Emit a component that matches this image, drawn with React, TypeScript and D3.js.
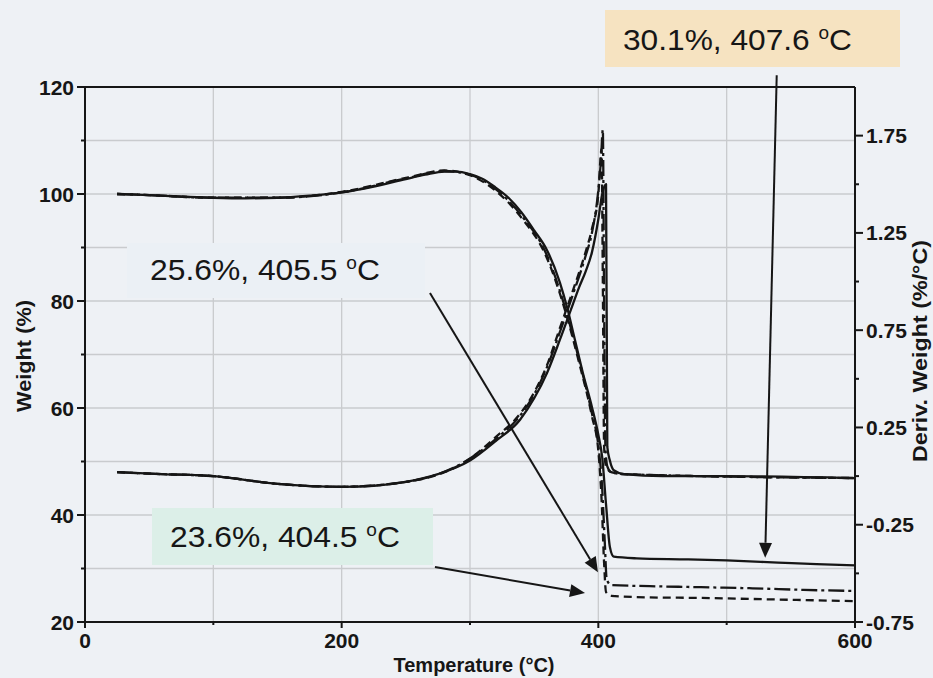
import React from "react";
import * as d3 from "d3";

// ---------- data ----------
const xTicks = [0, 200, 400, 600];
const xMinor = [100, 300, 500];
const yLeftTicks = [20, 40, 60, 80, 100, 120];
const yLeftMinor = [30, 50, 70, 90, 110];
const yRightTicks = [-0.75, -0.25, 0.25, 0.75, 1.25, 1.75];
const yRightMinor = [-0.5, 0, 0.5, 1.0, 1.5];
const gridY = [30, 40, 50, 60, 70, 80, 90, 100, 110];
const gridX = [100, 200, 300, 400, 500];

// weight (%) — solid sample
const wSolidT = [25, 50, 75, 100, 125, 150, 175, 200, 225, 250, 265, 280, 290, 300, 310, 320, 330, 340, 350, 360, 370, 376, 381, 388, 395, 400, 403, 406, 409, 412, 430, 470, 500, 540, 570, 600];
const wSolidV = [100.0, 99.8, 99.5, 99.3, 99.2, 99.3, 99.7, 100.3, 101.4, 102.8, 103.6, 104.2, 104.2, 103.7, 102.8, 101.2, 99.3, 96.6, 93.2, 89.5, 83.5, 78.5, 73.5, 66.5, 60.2, 55.0, 50.8, 42.0, 34.0, 32.2, 31.9, 31.7, 31.5, 31.1, 30.8, 30.6];
// weight — dash-dot sample
const wDashDotT = [25, 50, 100, 150, 200, 250, 280, 300, 320, 340, 360, 375, 385, 395, 400, 403, 405, 406.5, 410, 440, 480, 520, 560, 600];
const wDashDotV = [100.0, 99.8, 99.3, 99.3, 100.3, 102.9, 104.3, 103.6, 100.9, 96.0, 88.5, 78.0, 69.0, 59.0, 53.0, 45.0, 35.0, 28.0, 26.9, 26.7, 26.5, 26.3, 26.0, 25.8];
// weight — dashed sample
const wDashedT = [25, 50, 100, 150, 200, 250, 280, 300, 320, 340, 360, 375, 385, 395, 400, 402.5, 404.5, 406, 410, 440, 480, 520, 560, 600];
const wDashedV = [100.0, 99.8, 99.3, 99.3, 100.4, 103.0, 104.4, 103.5, 100.6, 95.6, 88.0, 77.5, 68.5, 58.5, 52.0, 43.0, 31.0, 25.6, 24.9, 24.6, 24.5, 24.3, 24.1, 23.9];

// derivative weight (%/°C) — solid
const dSolidT = [25, 60, 100, 150, 200, 225, 250, 275, 300, 320, 339, 350, 360, 370, 380, 385, 390, 395, 400, 403, 406, 407, 409, 412, 420, 450, 500, 600];
const dSolidV = [0.02, 0.01, 0.0, -0.04, -0.055, -0.05, -0.03, 0.01, 0.08, 0.18, 0.29, 0.4, 0.53, 0.7, 0.88, 0.97, 1.05, 1.15, 1.32, 1.45, 1.5, 0.15, 0.08, 0.03, 0.01, 0.0, 0.0, -0.01];
// derivative — dash-dot
const dDashDotT = [25, 60, 100, 150, 200, 250, 300, 320, 339, 350, 360, 370, 380, 390, 395, 400, 402, 403.5, 404.5, 405.5, 407, 410, 420, 600];
const dDashDotV = [0.02, 0.01, 0.0, -0.04, -0.055, -0.03, 0.09, 0.19, 0.31, 0.42, 0.56, 0.74, 0.93, 1.13, 1.25, 1.47, 1.62, 1.78, 0.9, 0.15, 0.05, 0.02, 0.01, -0.01];
// derivative — dashed
const dDashedT = [25, 60, 100, 150, 200, 250, 300, 320, 339, 350, 360, 370, 380, 390, 395, 400, 402.5, 403.5, 404.5, 406, 410, 420, 600];
const dDashedV = [0.02, 0.01, 0.0, -0.04, -0.055, -0.03, 0.09, 0.2, 0.32, 0.43, 0.57, 0.76, 0.95, 1.15, 1.27, 1.45, 1.68, 1.0, 0.15, 0.05, 0.02, 0.01, -0.01];

// annotations
const annoTexts = ["30.1%, 407.6 ", "25.6%, 405.5 ", "23.6%, 404.5 "];
// arrows: [startT, startW, tipT, tipW] in data units
const arrowSolid = [539, 122.2, 530, 32.0];
const arrowDashDot = [268.8, 81.5, 399.7, 29.3];
const arrowDashed = [272.7, 30.3, 389.6, 25.4];

// ---------- layout ----------
const W = 933;
const H = 678;
const x = d3.scaleLinear().domain([0, 600]).range([85, 855]);
const yL = d3.scaleLinear().domain([20, 120]).range([622, 87]);
const yR = d3.scaleLinear().domain([-0.75, 2.0]).range([622, 87]);

const lineL = (t: number[], v: number[]) =>
  d3.line<number>().x((_, i) => x(t[i])).y((d) => yL(d)).curve(d3.curveMonotoneX)(v) || "";
const lineR = (t: number[], v: number[]) =>
  d3.line<number>().x((_, i) => x(t[i])).y((d) => yR(d)).curve(d3.curveMonotoneX)(v) || "";

const FONT = "'Liberation Sans', Arial, Helvetica, sans-serif";
const INK = "#161616";
const GRID = "#c9cbce";

function Arrow({ a }: { a: number[] }) {
  const x1 = x(a[0]), y1 = yL(a[1]), x2 = x(a[2]), y2 = yL(a[3]);
  const ang = Math.atan2(y2 - y1, x2 - x1);
  const len = 15, half = 6.5;
  const bx = x2 - len * Math.cos(ang), by = y2 - len * Math.sin(ang);
  const px = -Math.sin(ang) * half, py = Math.cos(ang) * half;
  return (
    <g>
      <line x1={x1} y1={y1} x2={bx} y2={by} stroke={INK} strokeWidth={2} />
      <polygon points={`${x2},${y2} ${bx + px},${by + py} ${bx - px},${by - py}`} fill={INK} />
    </g>
  );
}

function Anno({ text, bx, by, bw, bh, fill, tx, ty, tw }: any) {
  return (
    <g>
      <rect x={bx} y={by} width={bw} height={bh} fill={fill} />
      <text x={tx} y={ty} fontFamily={FONT} fontSize={30} fill={INK} textLength={tw} lengthAdjust="spacingAndGlyphs">
        {text}
        <tspan fontSize={18} dy={-11}>o</tspan>
        <tspan dy={11}>C</tspan>
      </text>
    </g>
  );
}

export default function App() {
  return (
    <div style={{ position: "absolute", left: 0, top: 0, width: W, height: H }}>
      <svg width={W} height={H} style={{ display: "block", background: "#eef1f5" }}>
        {/* grid */}
        {gridY.map((g) => (
          <line key={"gy" + g} x1={x(0)} x2={x(600)} y1={yL(g)} y2={yL(g)} stroke={GRID} strokeWidth={1.3} />
        ))}
        {gridX.map((g) => (
          <line key={"gx" + g} x1={x(g)} x2={x(g)} y1={yL(20)} y2={yL(120)} stroke={GRID} strokeWidth={1.3} />
        ))}

        {/* annotation boxes */}
        <Anno text={annoTexts[0]} bx={605} by={10} bw={295} bh={57} fill="#f6e3c1" tx={623} ty={50} tw={229} />
        <Anno text={annoTexts[1]} bx={127} by={243} bw={298} bh={55} fill="#ebf0f5" tx={150} ty={280} tw={230} />
        <Anno text={annoTexts[2]} bx={152} by={508} bw={281} bh={57} fill="#dcefe8" tx={170} ty={547} tw={230} />

        {/* curves */}
        <g fill="none" stroke={INK} strokeWidth={2.3} strokeLinejoin="round">
          <path d={lineL(wDashedT, wDashedV)} strokeDasharray="8,5" />
          <path d={lineL(wDashDotT, wDashDotV)} strokeDasharray="16,4,3,4" />
          <path d={lineL(wSolidT, wSolidV)} />
          <path d={lineR(dDashedT, dDashedV)} strokeDasharray="8,5" />
          <path d={lineR(dDashDotT, dDashDotV)} strokeDasharray="16,4,3,4" />
          <path d={lineR(dSolidT, dSolidV)} />
        </g>

        {/* arrows */}
        <Arrow a={arrowSolid} />
        <Arrow a={arrowDashDot} />
        <Arrow a={arrowDashed} />

        {/* axes frame */}
        <g stroke={INK} strokeWidth={2}>
          <line x1={x(0)} x2={x(600)} y1={yL(120)} y2={yL(120)} />
          <line x1={x(0)} x2={x(600)} y1={yL(20)} y2={yL(20)} />
          <line x1={x(0)} x2={x(0)} y1={yL(20)} y2={yL(120)} />
          <line x1={x(600)} x2={x(600)} y1={yL(20)} y2={yL(120)} />
          {yLeftTicks.map((t) => (
            <line key={"lt" + t} x1={x(0) - 8} x2={x(0)} y1={yL(t)} y2={yL(t)} />
          ))}
          {yLeftMinor.map((t) => (
            <line key={"lm" + t} x1={x(0) - 4} x2={x(0)} y1={yL(t)} y2={yL(t)} />
          ))}
          {yRightTicks.map((t) => (
            <line key={"rt" + t} x1={x(600)} x2={x(600) + 8} y1={yR(t)} y2={yR(t)} />
          ))}
          {yRightMinor.map((t) => (
            <line key={"rm" + t} x1={x(600)} x2={x(600) + 4} y1={yR(t)} y2={yR(t)} />
          ))}
          {xTicks.map((t) => (
            <line key={"xt" + t} x1={x(t)} x2={x(t)} y1={yL(20)} y2={yL(20) + 6} />
          ))}
          {xMinor.map((t) => (
            <line key={"xm" + t} x1={x(t)} x2={x(t)} y1={yL(20)} y2={yL(20) + 3} />
          ))}
        </g>

        {/* tick labels */}
        <g fontFamily={FONT} fontWeight="bold" fontSize={21} fill={INK}>
          {yLeftTicks.map((t) => (
            <text key={"ll" + t} x={x(0) - 11} y={yL(t) + 7.5} textAnchor="end">{t}</text>
          ))}
          {yRightTicks.map((t) => (
            <text key={"rl" + t} x={x(600) + 11} y={yR(t) + 7.5} textAnchor="start">{t.toFixed(2)}</text>
          ))}
          {xTicks.map((t) => (
            <text key={"xl" + t} x={x(t)} y={648} textAnchor="middle">{t}</text>
          ))}
        </g>

        {/* axis titles */}
        <g fontFamily={FONT} fontWeight="bold" fontSize={20} fill={INK}>
          <text x={474} y={672} textAnchor="middle">Temperature (°C)</text>
          <text transform="translate(31,356) rotate(-90)" textAnchor="middle" textLength={112} lengthAdjust="spacingAndGlyphs">Weight (%)</text>
          <text transform="translate(927,351) rotate(-90)" textAnchor="middle" textLength={222} lengthAdjust="spacingAndGlyphs">Deriv. Weight (%/°C)</text>
        </g>
      </svg>
    </div>
  );
}
